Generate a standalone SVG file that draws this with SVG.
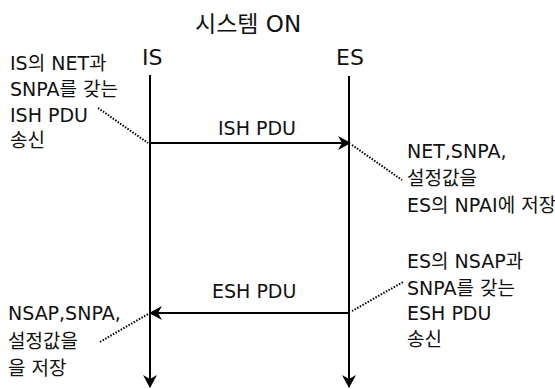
<svg xmlns="http://www.w3.org/2000/svg" width="555" height="389" viewBox="0 0 555 389">
<style>
text{font-family:"DejaVu Sans","Noto Sans CJK KR",sans-serif;fill:#111}
.t{font-size:19px}
.h{font-size:22px}
.ti{font-size:23px}
.l{stroke:#000;stroke-width:2;fill:none}
.d{stroke:#000;stroke-width:2;stroke-dasharray:1.5 1.5;fill:none}
</style>
<defs>
<marker id="ah" markerUnits="userSpaceOnUse" markerWidth="16" markerHeight="16" refX="13" refY="8" orient="auto" overflow="visible">
<path d="M1,1 L14,8 L1,15 L5,8 Z" fill="#000"/>
</marker>
</defs>
<text id="title" class="ti" x="195" y="32">시스템 ON</text>
<g id="IS">
<text class="h" x="142" y="65">IS</text>
</g>
<g id="ES">
<text class="h" x="336" y="65">ES</text>
</g>
<g id="connectors">
<line class="l" x1="150" y1="75" x2="150" y2="387" marker-end="url(#ah)"/>
<line class="l" x1="349" y1="76" x2="349" y2="387" marker-end="url(#ah)"/>
<line class="l" x1="150" y1="143" x2="350" y2="143" marker-end="url(#ah)"/>
<line class="l" x1="349" y1="313" x2="150" y2="313" marker-end="url(#ah)"/>
<line class="d" x1="98" y1="108" x2="148" y2="143"/>
<line class="d" x1="352" y1="145" x2="402" y2="180"/>
<line class="d" x1="352" y1="311" x2="403" y2="282"/>
<line class="d" x1="100" y1="342" x2="148" y2="314"/>
</g>
<g id="msg-ish"><text class="t" x="218" y="135">ISH PDU</text></g>
<g id="msg-esh"><text class="t" x="212" y="298">ESH PDU</text></g>
<g id="note-is-send">
<text class="t" x="10" y="70">IS의 NET과</text>
<text class="t" x="10" y="96">SNPA를 갖는</text>
<text class="t" x="10" y="122">ISH PDU</text>
<text class="t" x="10" y="147">송신</text>
</g>
<g id="note-es-store">
<text class="t" x="407" y="158">NET,SNPA,</text>
<text class="t" x="407" y="185">설정값을</text>
<text class="t" x="407" y="212">ES의 NPAI에 저장</text>
</g>
<g id="note-es-send">
<text class="t" x="407" y="268">ES의 NSAP과</text>
<text class="t" x="407" y="295">SNPA를 갖는</text>
<text class="t" x="407" y="320">ESH PDU</text>
<text class="t" x="407" y="346">송신</text>
</g>
<g id="note-is-store">
<text class="t" x="8" y="320">NSAP,SNPA,</text>
<text class="t" x="8" y="348">설정값을</text>
<text class="t" x="8" y="375">을 저장</text>
</g>
</svg>
